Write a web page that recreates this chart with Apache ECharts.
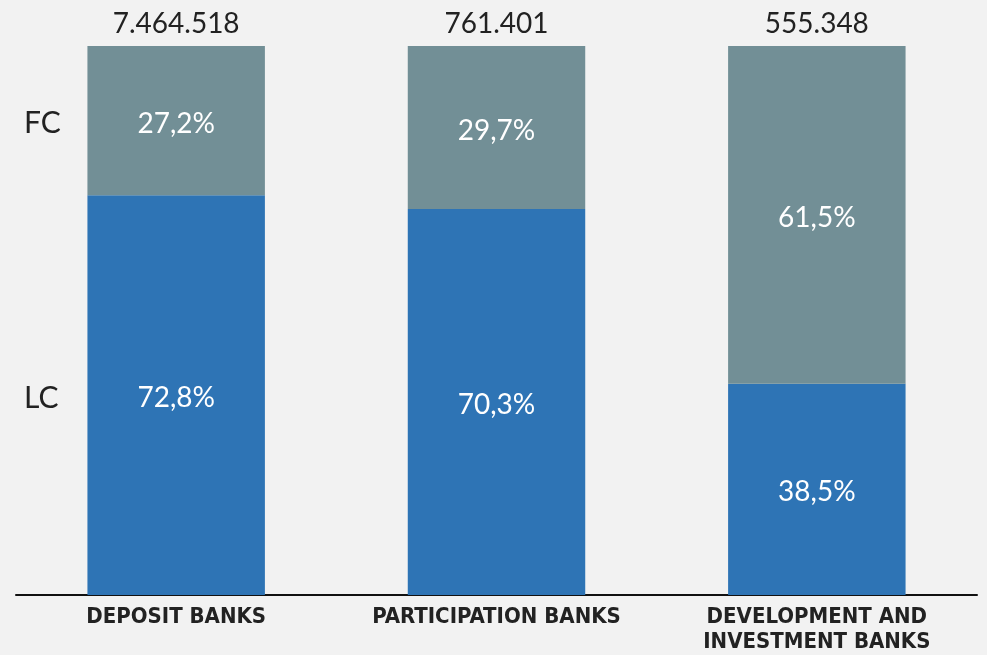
<!DOCTYPE html>
<html>
<head>
<meta charset="utf-8">
<script src="https://cdn.jsdelivr.net/npm/echarts@6/dist/echarts.min.js"></script>
<style>
html,body{margin:0;padding:0;background:#f2f2f2;}
#main{width:987px;height:655px;}
</style>
</head>
<body>
<div id="main"></div>
<script>
const categories = ['DEPOSIT BANKS', 'PARTICIPATION BANKS', 'DEVELOPMENT AND\nINVESTMENT BANKS'];
const lcShare = [72.8, 70.3, 38.5];
const fcShare = [27.2, 29.7, 61.5];
const totals = ['7.464.518', '761.401', '555.348'];
const seriesNames = ['LC', 'FC'];

const chart = echarts.init(document.getElementById('main'), null, {renderer: 'canvas'});
const fmt = v => v.toFixed(1).replace('.', ',') + '%';
const font = 'Lato, "Open Sans", sans-serif';

chart.setOption({
  backgroundColor: '#f2f2f2',
  animation: false,
  grid: {left: 16, right: 10, top: 46, bottom: 59, containLabel: false},
  xAxis: {
    type: 'category',
    data: categories,
    axisLine: {lineStyle: {color: '#111', width: 2}},
    axisTick: {show: false},
    axisLabel: {
      interval: 0, hideOverlap: false,
      color: '#222', fontSize: 22, fontWeight: 'bold', lineHeight: 25,
      fontFamily: '"Liberation Sans Narrow", "DejaVu Sans Condensed", Roboto, sans-serif',
      margin: 10
    }
  },
  yAxis: {type: 'value', min: 0, max: 100, show: false},
  series: [
    {
      name: seriesNames[0], type: 'bar', stack: 's', barWidth: '55.4%',
      data: lcShare,
      itemStyle: {color: '#2e74b5'},
      label: {show: true, position: 'inside', offset: [0, 3], color: '#fff', fontSize: 28, fontFamily: font,
        formatter: p => fmt(p.value)}
    },
    {
      name: seriesNames[1], type: 'bar', stack: 's', barWidth: '55.4%',
      data: fcShare,
      itemStyle: {color: '#728f96'},
      label: {show: true, position: 'inside', offset: [0, 3], color: '#fff', fontSize: 28, fontFamily: font,
        formatter: p => fmt(p.value)}
    },
    {
      name: 'total', type: 'bar', stack: 's', barWidth: '55.4%',
      data: [0, 0, 0],
      itemStyle: {color: 'transparent'},
      label: {show: true, position: 'top', distance: 8, color: '#222', fontSize: 28, fontFamily: font,
        formatter: p => totals[p.dataIndex]}
    }
  ]
});

// side labels "FC" and "LC" placed at mid of first bar's segments
const lcMid = chart.convertToPixel({gridIndex: 0}, [0, lcShare[0] / 2]);
const fcMid = chart.convertToPixel({gridIndex: 0}, [0, lcShare[0] + fcShare[0] / 2]);
chart.setOption({
  graphic: [
    {type: 'text', left: 24, top: fcMid[1] - 12, style: {text: seriesNames[1], fill: '#222', fontSize: 30, fontFamily: font}},
    {type: 'text', left: 24, top: lcMid[1] - 12, style: {text: seriesNames[0], fill: '#222', fontSize: 30, fontFamily: font}}
  ]
});
</script>
</body>
</html>
